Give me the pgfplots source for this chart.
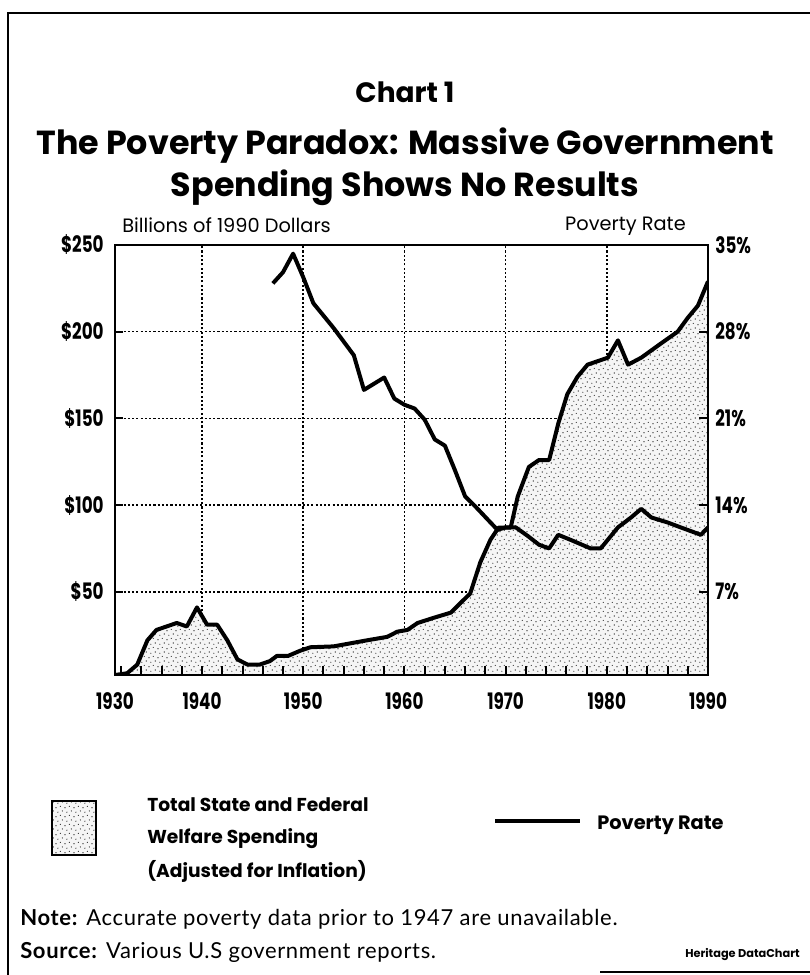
\documentclass[border=0pt]{standalone}
\usepackage{pgfplots}
\pgfplotsset{compat=1.18}
\usepackage{pgfplotstable}
\usepackage{fontspec}
\usetikzlibrary{patterns.meta}
\setmainfont{Poppins}
\newfontfamily\condfont{Poppins}[FakeStretch=0.74]
\newfontfamily\notefont{Lato}[LetterSpace=3]

% sparse stipple for the spending area
\tikzdeclarepattern{
  name=stipple, type=uncolored,
  bottom left={(0pt,0pt)}, top right={(7pt,7pt)}, tile size={(7pt,7pt)},
  code={
    \fill (0.8pt,1.0pt) circle (0.45pt);
    \fill (4.2pt,2.1pt) circle (0.45pt);
    \fill (2.3pt,4.6pt) circle (0.45pt);
    \fill (5.8pt,5.6pt) circle (0.45pt);
  }
}

% welfare spending, billions of 1990 dollars
\pgfplotstableread{
year spend
1931.4 2
1932.6 3
1933.6 8
1934.6 22
1935.5 28
1936.5 30
1937.5 32
1938.5 30
1939.5 41
1940.5 31
1941.5 31
1942.5 22
1943.5 11
1944.5 8
1945.7 8
1946.7 10
1947.4 13
1948.5 13
1949.7 16
1950.7 18
1953.0 18.5
1956.3 22
1958.3 24
1959.3 27
1960.3 28
1961.3 32
1962.9 35
1964.6 38
1965.8 45
1966.5 49
1967.5 67
1968.5 80
1969.3 87
1970.5 87
1971.2 105
1972.3 122
1973.3 126
1974.3 126
1975.2 147
1976.1 164
1977.1 174
1978.1 181
1980.1 185
1981.1 195
1982.1 181
1983.4 185
1985.3 193
1987.0 200
1988.0 208
1989.0 215
1990.0 229
}\spending

% poverty rate, percent
\pgfplotstableread{
year rate
1947.0 31.9
1948.0 32.8
1949.0 34.3
1950.0 32.4
1951.0 30.3
1953.0 28.3
1955.0 26.1
1956.0 23.3
1958.0 24.3
1959.0 22.6
1960.0 22.1
1961.0 21.8
1962.0 20.9
1963.0 19.3
1964.0 18.8
1965.0 16.8
1966.0 14.7
1967.0 13.9
1968.5 12.6
1969.2 12.0
1970.0 12.2
1971.0 12.2
1972.2 11.5
1973.3 10.8
1974.3 10.5
1975.2 11.6
1976.4 11.2
1978.4 10.5
1979.4 10.5
1981.1 12.2
1982.4 13.0
1983.4 13.7
1984.4 13.0
1986.0 12.6
1987.3 12.2
1989.3 11.6
1990.0 12.2
}\poverty

\begin{document}
\begin{tikzpicture}
\begin{scope}[x=0.75pt,y=-0.75pt]
\path[use as bounding box] (0,0) rectangle (810,975);
\draw[line width=2pt] (8,980) -- (8,13) -- (810,13);
\draw[line width=1.4pt] (600,972) -- (810,972);
\node[font=\bfseries\fontsize{21}{24}\selectfont] at (405,92) {Chart 1};
\node[font=\bfseries\fontsize{25}{28}\selectfont] at (405,146) {The Poverty Paradox: Massive Government};
\node[font=\bfseries\fontsize{25}{28}\selectfont] at (405,188) {Spending Shows No Results};
\node[font=\fontsize{14.5}{16}\selectfont, anchor=base west, inner sep=0pt] at (122,232) {Billions of 1990 Dollars};
\node[font=\fontsize{14.5}{16}\selectfont, anchor=base east, inner sep=0pt] at (686,230) {Poverty Rate};
% legend
\fill[black!4] (52,801) rectangle (96,855);
\fill[pattern=stipple, pattern color=black] (52,801) rectangle (96,855);
\draw[line width=1.8pt] (52,801) rectangle (96,855);
\begin{scope}[every node/.style={font=\bfseries\fontsize{14}{16}\selectfont, anchor=base west, inner sep=0pt}]
\node at (147,811) {Total State and Federal};
\node at (147,843) {Welfare Spending};
\node at (147,877) {(Adjusted for Inflation)};
\node[font=\bfseries\fontsize{14.5}{16}\selectfont] at (597,829) {Poverty Rate};
\end{scope}
\draw[line width=2.8pt] (495,821) -- (580,821);
% notes
\node[font=\notefont\fontsize{16.5}{18}\selectfont, anchor=base west, inner sep=0pt] at (20,925) {\textbf{Note:} Accurate poverty data prior to 1947 are unavailable.};
\node[font=\notefont\fontsize{16.5}{18}\selectfont, anchor=base west, inner sep=0pt] at (20,958) {\textbf{Source:} Various U.S government reports.};
\node[font=\bfseries\fontsize{8.5}{10}\selectfont, anchor=base east, inner sep=0pt] at (800,957) {Heritage DataChart};
\end{scope}

\begin{axis}[
  at={(86.25pt,-183.75pt)}, anchor=north west,
  scale only axis, width=444.75pt, height=322.5pt,
  xmin=1931.4, xmax=1990, ymin=2, ymax=250,
  axis line style={draw=none},
  xtick={1931.4,1940,1950,1960,1970,1980,1990},
  xticklabels={1930,1940,1950,1960,1970,1980,1990},
  ytick={50,100,150,200,250},
  yticklabels={\$50,\$100,\$150,\$200,\$250},
  xtick style={draw=none},
  ytick pos=left, tick align=inside,
  ytick style={line width=1.5pt, black},
  major tick length=6pt,
  grid=major,
  major grid style={line width=1.1pt, dash pattern=on 1.6pt off 1.6pt, black},
  ticklabel style={font=\condfont\bfseries\fontsize{17}{19}\selectfont},
  xticklabel style={yshift=-10pt},
  yticklabel style={xshift=-5pt},
  /pgf/number format/assume math mode=true,
]
\addplot[draw=none, fill=black!4] table[x=year, y=spend] {\spending} \closedcycle;
\addplot[draw=none, pattern=stipple, pattern color=black] table[x=year, y=spend] {\spending} \closedcycle;
\addplot[line width=3pt, line join=round] table[x=year, y=spend] {\spending};
\end{axis}

\begin{axis}[
  at={(86.25pt,-183.75pt)}, anchor=north west,
  scale only axis, width=444.75pt, height=322.5pt,
  xmin=1931.4, xmax=1990, ymin=0.28, ymax=35,
  axis on top,
  axis line style={line width=1.6pt},
  xtick={1932,1934,...,1988},
  xticklabels={},
  xtick pos=left,
  ytick={7,14,21,28,35},
  yticklabels={7\%,14\%,21\%,28\%,35\%},
  ytick pos=right,
  tick align=inside,
  major tick length=6.5pt,
  every tick/.style={line width=1.5pt, black},
  ticklabel style={font=\condfont\bfseries\fontsize{17}{19}\selectfont},
  yticklabel style={xshift=2pt},
  /pgf/number format/assume math mode=true,
]
\addplot[line width=3pt, line join=round] table[x=year, y=rate] {\poverty};
\end{axis}
\end{tikzpicture}
\end{document}
